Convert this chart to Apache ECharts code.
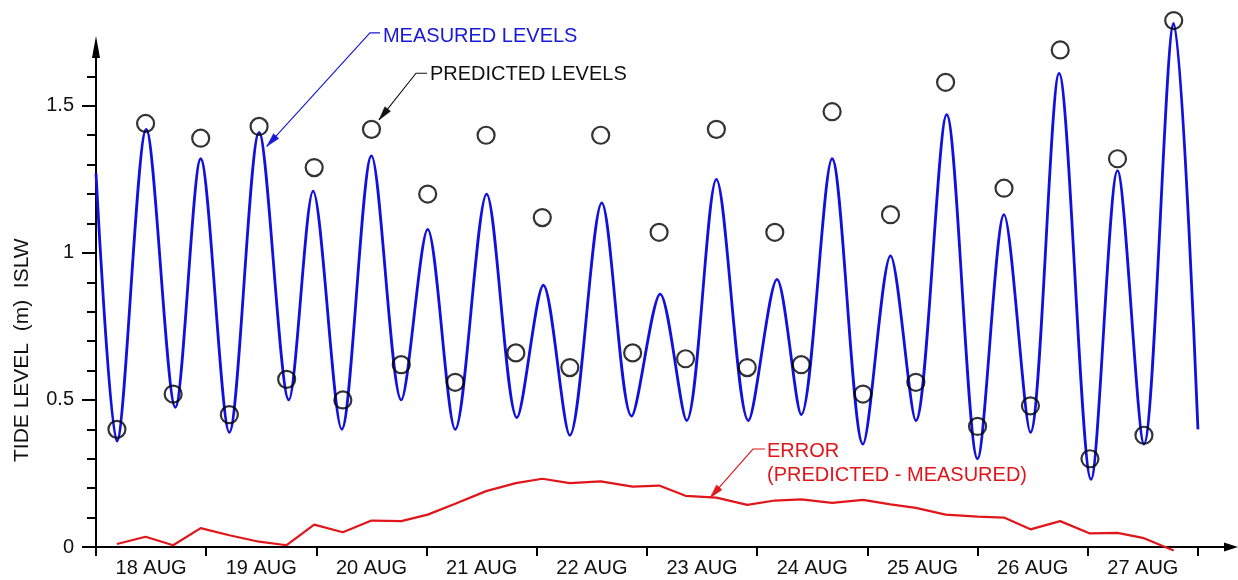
<!DOCTYPE html>
<html>
<head>
<meta charset="utf-8">
<script src="https://cdn.jsdelivr.net/npm/echarts@6/dist/echarts.min.js"></script>
<style>html,body{margin:0;padding:0;background:#fff}#c{width:1238px;height:580px}</style>
</head>
<body>
<div id="c"></div>
<script>
// ---------- data (x = days since 18 AUG 00:00) ----------
const dayLabels = ['18 AUG','19 AUG','20 AUG','21 AUG','22 AUG','23 AUG','24 AUG','25 AUG','26 AUG','27 AUG'];
const xDayTicks = [0,1,2,3,4,5,6,7,8,9,10];
const xLabelPositions = [0.5,1.5,2.5,3.5,4.5,5.5,6.5,7.5,8.5,9.5];
const yMajorTicks = [0,0.5,1,1.5];
const yMinorTicks = [0.1,0.2,0.3,0.4,0.5,0.6,0.7,0.8,0.9,1.0,1.1,1.2,1.3,1.4,1.5,1.6];

const measuredDays = [0.00,0.19,0.456,0.72,0.95,1.21,1.48,1.75,1.97,2.23,2.50,2.77,3.01,3.26,3.545,3.82,4.06,4.30,4.59,4.86,5.12,5.36,5.63,5.92,6.18,6.40,6.68,6.96,7.21,7.44,7.72,8.00,8.24,8.48,8.74,9.03,9.27,9.51,9.78,10.0];
const measuredLevels = [1.27,0.36,1.42,0.475,1.32,0.39,1.41,0.50,1.21,0.40,1.33,0.50,1.08,0.40,1.20,0.44,0.89,0.38,1.17,0.445,0.86,0.43,1.25,0.43,0.91,0.45,1.32,0.35,0.99,0.43,1.47,0.30,1.13,0.39,1.61,0.23,1.28,0.35,1.78,0.40];

const predictedDays = [0.19,0.45,0.70,0.95,1.21,1.48,1.73,1.98,2.24,2.50,2.77,3.01,3.26,3.54,3.81,4.05,4.30,4.58,4.87,5.11,5.35,5.63,5.91,6.16,6.40,6.68,6.96,7.21,7.44,7.71,8.00,8.24,8.48,8.75,9.02,9.27,9.51,9.78];
const predictedLevels = [0.40,1.44,0.52,1.39,0.45,1.43,0.57,1.29,0.50,1.42,0.62,1.20,0.56,1.40,0.66,1.12,0.61,1.40,0.66,1.07,0.64,1.42,0.61,1.07,0.62,1.48,0.52,1.13,0.56,1.58,0.41,1.22,0.48,1.69,0.30,1.32,0.38,1.79];

const errorDays = predictedDays;
const errorValues = [0.010,0.035,0.006,0.064,0.040,0.018,0.006,0.076,0.050,0.090,0.088,0.110,0.147,0.190,0.217,0.232,0.217,0.223,0.205,0.209,0.174,0.168,0.143,0.158,0.162,0.150,0.160,0.145,0.133,0.110,0.103,0.100,0.060,0.088,0.046,0.048,0.030,-0.012];

// annotation anchors in data coordinates
const annotations = [
  {lines:['MEASURED LEVELS'], color:'#1818d8', tip:[1.549,1.362], elbow:[2.486,1.748], stub:[2.577,1.748], text:[2.604,1.736]},
  {lines:['PREDICTED LEVELS'], color:'#111111', tip:[2.568,1.452], elbow:[2.904,1.611], stub:[3.004,1.611], text:[3.031,1.607]},
  {lines:['ERROR','(PREDICTED - MEASURED)'], color:'#e0161b', tip:[5.572,0.167], elbow:[5.962,0.333], stub:[6.071,0.333], text:[6.089,0.324]}
];

const FONT = '"Liberation Sans", Arial, Helvetica, sans-serif';
const BLUE = '#1010e0', RED = '#e0161b', BLACK = '#000';

const zip = (a,b) => a.map((v,i)=>[v,b[i]]);
const chart = echarts.init(document.getElementById('c'), null, {renderer:'canvas'});

const gridRect = {left:96, top:47, width:1135, height:500};
const axisLineStyle = {color:BLACK, width:2};

chart.setOption({
  animation:false,
  backgroundColor:'#fff',
  grid:[Object.assign({}, gridRect), Object.assign({}, gridRect)],
  xAxis:[{
    type:'value', gridIndex:0, min:0, max:10.3,
    axisLine:{show:true, onZero:true, lineStyle:axisLineStyle, symbol:['none','triangle'], symbolSize:[9,14]},
    axisTick:{show:true, customValues:xDayTicks, length:9, lineStyle:{color:BLACK, width:2}},
    axisLabel:{customValues:xLabelPositions, formatter:v=>dayLabels[Math.floor(v)], fontSize:20, fontFamily:FONT, color:'#111', margin:11},
    splitLine:{show:false}
  },{
    type:'value', gridIndex:1, min:0, max:10.3, show:false
  }],
  yAxis:[{
    type:'value', gridIndex:0, min:0, max:1.7,
    axisLine:{show:true, lineStyle:axisLineStyle, symbol:['none','triangle'], symbolSize:[8,22]},
    axisTick:{show:true, customValues:yMajorTicks, length:14, lineStyle:{color:BLACK, width:2}},
    axisLabel:{customValues:yMajorTicks, formatter:v=>String(v), fontSize:20, fontFamily:FONT, color:'#111', margin:22},
    splitLine:{show:false}
  },{
    type:'value', gridIndex:1, min:0, max:1.7, position:'left',
    axisLine:{show:false},
    axisTick:{show:true, customValues:yMinorTicks, length:9, lineStyle:{color:BLACK, width:2}},
    axisLabel:{show:false},
    splitLine:{show:false}
  }],
  series:[{
    name:'ERROR', type:'line', xAxisIndex:0, yAxisIndex:0, data:zip(errorDays,errorValues),
    showSymbol:false, clip:false, lineStyle:{color:RED, width:2.2}, z:2, silent:true
  },{
    name:'MEASURED LEVELS', type:'line', xAxisIndex:0, yAxisIndex:0, data:zip(measuredDays,measuredLevels),
    showSymbol:false, smooth:0.3, clip:false, lineStyle:{color:BLUE, width:2.8}, z:3, silent:true
  },{
    name:'PREDICTED LEVELS', type:'scatter', xAxisIndex:0, yAxisIndex:0, data:zip(predictedDays,predictedLevels),
    symbol:'circle', symbolSize:17, clip:false, silent:true, z:4,
    itemStyle:{color:'rgba(0,0,0,0)', borderColor:BLACK, borderWidth:2.2}
  }]
});

// ---------- annotations ----------
const px = p => chart.convertToPixel({xAxisIndex:0, yAxisIndex:0}, p);
const graphics = [];
annotations.forEach(a => {
  const T = px(a.tip), E = px(a.elbow), S = px(a.stub), X = px(a.text);
  graphics.push({type:'polyline', silent:true, z:10, shape:{points:[S,E,T]}, style:{stroke:a.color, lineWidth:1.1, fill:null}});
  const dx = T[0]-E[0], dy = T[1]-E[1], len = Math.hypot(dx,dy), ux = dx/len, uy = dy/len;
  const L = 14, W = 3.6, bx = T[0]-ux*L, by = T[1]-uy*L;
  graphics.push({type:'polygon', silent:true, z:10, shape:{points:[T,[bx-uy*W,by+ux*W],[bx+uy*W,by-ux*W]]}, style:{fill:a.color, stroke:a.color, lineWidth:0.5}});
  a.lines.forEach((t,i) => {
    graphics.push({type:'text', silent:true, z:10, x:X[0], y:X[1]+i*23.5,
      style:{text:t, fill:a.color, font:'20px '+FONT, align:'left', verticalAlign:'middle', textAlign:'left', textVerticalAlign:'middle'}});
  });
});
// y-axis title (rotated, reading bottom to top)
graphics.push({type:'text', silent:true, x:22, y:462, rotation:Math.PI/2,
  style:{text:'TIDE LEVEL  (m)  ISLW', fill:'#111', font:'21px '+FONT, align:'left', verticalAlign:'middle', textAlign:'left', textVerticalAlign:'middle'}});
chart.setOption({graphic:graphics});
</script>
</body>
</html>
